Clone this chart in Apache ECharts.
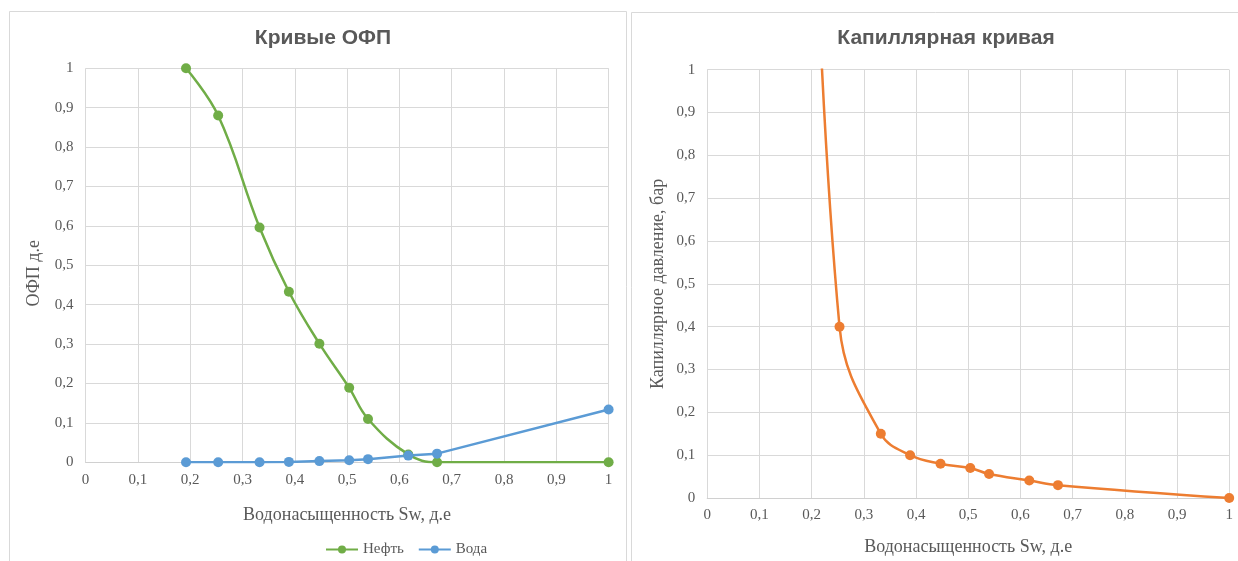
<!DOCTYPE html>
<html><head><meta charset="utf-8">
<script src="https://cdn.jsdelivr.net/npm/echarts@6/dist/echarts.min.js"></script>
<style>html,body{margin:0;padding:0;background:#fff;}#c{width:1238px;height:561px;}</style>
</head><body><div id="c"></div>
<script>
// Data
var sw  = [0.192, 0.2535, 0.3326, 0.3887, 0.447, 0.504, 0.540, 0.617, 0.672, 1.0];
var kro = [1.0, 0.88, 0.596, 0.433, 0.301, 0.189, 0.110, 0.020, 0.0, 0.0];
var krw = [0.0, 0.0, 0.0, 0.001, 0.003, 0.005, 0.008, 0.017, 0.022, 0.134];
var pc  = [2.0, 0.4, 0.15, 0.10, 0.08, 0.07, 0.056, 0.041, 0.03, 0.0];
var titles = ['Кривые ОФП', 'Капиллярная кривая'];
var xName = 'Водонасыщенность Sw, д.е';
var yNames = ['ОФП д.е', 'Капиллярное давление, бар'];
var seriesNames = ['Нефть', 'Вода', 'Капиллярное давление'];

function pairs(xs, ys){ return xs.map(function(x,i){ return [x, ys[i]]; }); }
var fmt = function(v){ return String(+v.toFixed(1)).replace('.', ','); };
var serif = 'Liberation Serif';
var grey = '#595959';
var gridCol = '#d9d9d9';
var titleFont = '"Liberation Sans", sans-serif';

function xAxis(gi, gap){
  return {type:'value', gridIndex:gi, min:0, max:1, interval:0.1,
    name:xName, nameLocation:'middle', nameGap:gap,
    nameTextStyle:{fontFamily:serif, fontSize:18, color:grey},
    axisLine:{show:true, lineStyle:{color:'#d0d0d0'}}, axisTick:{show:false},
    axisLabel:{formatter:fmt, fontFamily:serif, fontSize:15, color:grey, margin:10},
    splitLine:{show:true, lineStyle:{color:gridCol}}};
}
function yAxis(gi, name, gap, pad){
  return {type:'value', gridIndex:gi, min:0, max:1, interval:0.1,
    name:name, nameLocation:'middle', nameGap:gap,
    nameTextStyle:{fontFamily:serif, fontSize:18, color:grey, padding:pad},
    axisLine:{show:false}, axisTick:{show:false},
    axisLabel:{formatter:fmt, fontFamily:serif, fontSize:15, color:grey, margin:12},
    splitLine:{show:true, lineStyle:{color:gridCol}}};
}
function lineSeries(name, data, color, xi, smooth){
  return {type:'line', name:name, xAxisIndex:xi, yAxisIndex:xi, data:data,
    smooth:smooth, symbol:'circle', symbolSize:10, clip:true,
    lineStyle:{color:color, width:2.5}, itemStyle:{color:color}};
}

var chart = echarts.init(document.getElementById('c'), null, {renderer:'canvas'});
chart.setOption({
  animation:false,
  backgroundColor:'#fff',
  graphic:[
    {type:'rect', shape:{x:9.5, y:11.5, width:617, height:620}, style:{fill:'none', stroke:'#d9d9d9', lineWidth:1}},
    {type:'rect', shape:{x:631.5, y:12.5, width:620, height:620}, style:{fill:'none', stroke:'#d9d9d9', lineWidth:1}}
  ],
  title:[
    {text:titles[0], left:318, top:23, textAlign:'center',
     textStyle:{fontFamily:titleFont, fontWeight:'bold', fontSize:21, color:grey}},
    {text:titles[1], left:941, top:23, textAlign:'center',
     textStyle:{fontFamily:titleFont, fontWeight:'bold', fontSize:21, color:grey}}
  ],
  legend:{data:[seriesNames[0], seriesNames[1]], left:320, top:537, textAlign:'center',
    itemWidth:32, itemHeight:10, itemGap:14,
    textStyle:{fontFamily:serif, fontSize:15, color:grey}},
  grid:[
    {left:85.6, top:68.3, width:523, height:394},
    {left:707.2, top:69.7, width:522, height:428.6}
  ],
  xAxis:[xAxis(0, 44), xAxis(1, 40)],
  yAxis:[yAxis(0, yNames[0], 42, [0,0,0,-16]), yAxis(1, yNames[1], 40, 0)],
  series:[
    lineSeries(seriesNames[0], pairs(sw, kro), '#70ad47', 0, 0.4),
    lineSeries(seriesNames[1], pairs(sw, krw), '#5b9bd5', 0, false),
    lineSeries(seriesNames[2], pairs(sw, pc), '#ed7d31', 1, 0.4)
  ]
});
</script></body></html>
